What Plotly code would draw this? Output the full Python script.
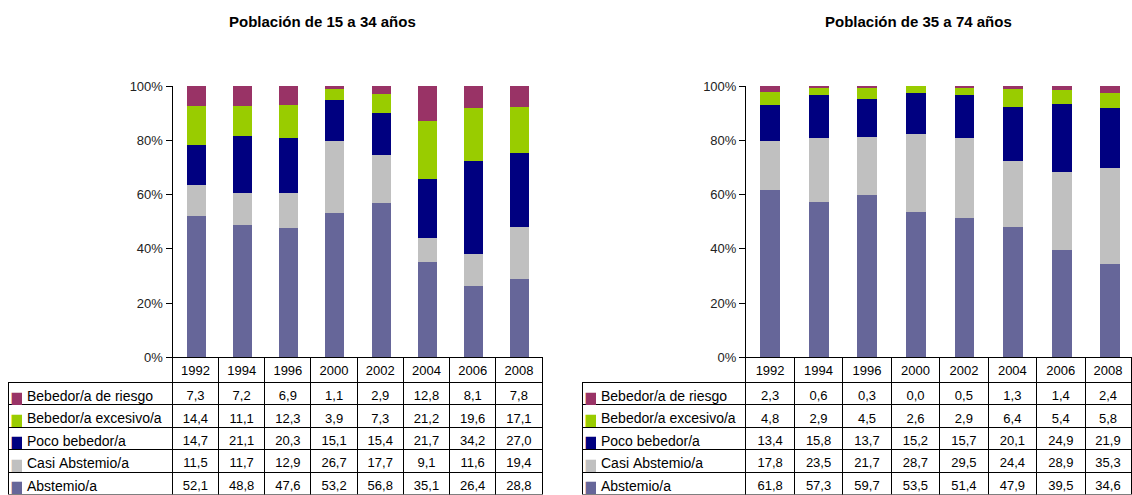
import plotly.graph_objects as go

years = ["1992", "1994", "1996", "2000", "2002", "2004", "2006", "2008"]

# Bottom-to-top stacking order
categories = ["Abstemio/a", "Casi Abstemio/a", "Poco bebedor/a",
              "Bebedor/a excesivo/a", "Bebedor/a de riesgo"]
colors = ["#666699", "#C0C0C0", "#000080", "#99CC00", "#993366"]

# Población de 15 a 34 años
young = {
    "Abstemio/a":           [52.1, 48.8, 47.6, 53.2, 56.8, 35.1, 26.4, 28.8],
    "Casi Abstemio/a":      [11.5, 11.7, 12.9, 26.7, 17.7, 9.1, 11.6, 19.4],
    "Poco bebedor/a":       [14.7, 21.1, 20.3, 15.1, 15.4, 21.7, 34.2, 27.0],
    "Bebedor/a excesivo/a": [14.4, 11.1, 12.3, 3.9, 7.3, 21.2, 19.6, 17.1],
    "Bebedor/a de riesgo":  [7.3, 7.2, 6.9, 1.1, 2.9, 12.8, 8.1, 7.8],
}
# Población de 35 a 74 años
older = {
    "Abstemio/a":           [61.8, 57.3, 59.7, 53.5, 51.4, 47.9, 39.5, 34.6],
    "Casi Abstemio/a":      [17.8, 23.5, 21.7, 28.7, 29.5, 24.4, 28.9, 35.3],
    "Poco bebedor/a":       [13.4, 15.8, 13.7, 15.2, 15.7, 20.1, 24.9, 21.9],
    "Bebedor/a excesivo/a": [4.8, 2.9, 4.5, 2.6, 2.9, 6.4, 5.4, 5.8],
    "Bebedor/a de riesgo":  [2.3, 0.6, 0.3, 0.0, 0.5, 1.3, 1.4, 2.4],
}
titles = ["Población de 15 a 34 años", "Población de 35 a 74 años"]

W, H = 1132, 495
FONT = "Arial, Liberation Sans, sans-serif"
NB = "\u00a0"
CLEAR = "rgba(0,0,0,0)"

fig = go.Figure()

xpos = list(range(len(years)))

def fmt(v):
    return f"{v:.1f}".replace(".", ",")

panels = [
    # (data, axis_left_px, axis_right_px, xrange_end, table_left_px, label_w, col_w, last_w, title_x)
    (young, 172.5, 542.5, 7.5, 8, 164.5, 46.25, 46.25, 322),
    (older, 746, W, 7.45, 582, 164, 48.5, 46.0, 918),
]

y_top_px, y_bot_px = 86, 357.5
ydom = [(H - y_bot_px) / H, (H - y_top_px) / H]
HEADER_H, ROW_H = 25, 22.4

rows = list(reversed(categories))
rcols = list(reversed(colors))

for i, (data, l_px, r_px, xend, t_px, lab_w, col_w, last_w, title_x) in enumerate(panels):
    suffix = "" if i == 0 else "2"
    xa, ya = "x" + suffix, "y" + suffix
    for cat, col in zip(categories, colors):
        fig.add_trace(go.Bar(
            x=xpos, y=data[cat], name=cat, marker=dict(color=col, line=dict(width=0)),
            width=0.41, xaxis=xa, yaxis=ya, showlegend=False, hoverinfo="skip"))
    fig.layout["xaxis" + suffix] = dict(
        domain=[l_px / W, min(r_px / W, 1.0)], range=[-0.5, xend],
        showticklabels=False, ticks="", showgrid=False, zeroline=False,
        showline=False, anchor=ya, fixedrange=True, automargin=False)
    fig.layout["yaxis" + suffix] = dict(
        domain=ydom, range=[0, 100], tickvals=[0, 20, 40, 60, 80, 100],
        ticktext=["0%", "20%", "40%", "60%", "80%", "100%"],
        showgrid=False, zeroline=False, showline=True, linecolor="#000", linewidth=1,
        ticks="outside", ticklen=6, tickcolor="#000", tickwidth=1,
        tickfont=dict(family=FONT, size=13, color="#222"),
        anchor=xa, fixedrange=True, automargin=False)

    # data table grid with the values (label column filled by overlays below)
    columns = [[""] * len(rows)] + [[fmt(data[r][j]) for r in rows] for j in range(len(years))]
    table_right = min(l_px + col_w * 7 + last_w, W)
    widths = [lab_w] + [col_w] * 7 + [last_w]
    tdom_y = [0, (H - y_bot_px) / H]
    fig.add_trace(go.Table(
        domain=dict(x=[t_px / W, table_right / W], y=tdom_y),
        columnwidth=widths,
        header=dict(values=[""] + years,
                    height=HEADER_H,
                    align="center",
                    line=dict(color=[CLEAR] + ["#000"] * 8, width=1),
                    fill=dict(color=[CLEAR] + ["white"] * 8),
                    font=dict(family=FONT, size=13, color="#000")),
        cells=dict(values=columns,
                   height=ROW_H,
                   align=["left"] + ["center"] * 8,
                   line=dict(color="#000", width=1),
                   fill=dict(color="white"),
                   font=dict(family=FONT, size=13, color="#000")),
    ))
    # colour keys overlaid on the label column
    fig.add_trace(go.Table(
        domain=dict(x=[(t_px - 6) / W, (t_px + 14) / W], y=tdom_y),
        header=dict(values=[""], height=HEADER_H,
                    line=dict(color=CLEAR, width=0), fill=dict(color=CLEAR)),
        cells=dict(values=[["■"] * len(rows)],
                   height=ROW_H, align="left",
                   line=dict(color=CLEAR, width=0), fill=dict(color=CLEAR),
                   font=dict(family="DejaVu Sans", size=16, color=[rcols])),
    ))
    # row labels overlaid on the label column
    fig.add_trace(go.Table(
        domain=dict(x=[(t_px + 11) / W, (t_px + lab_w - 1) / W], y=tdom_y),
        header=dict(values=[""], height=HEADER_H,
                    line=dict(color=CLEAR, width=0), fill=dict(color=CLEAR)),
        cells=dict(values=[[r.replace(" ", NB) for r in rows]],
                   height=ROW_H, align="left",
                   line=dict(color=CLEAR, width=0), fill=dict(color=CLEAR),
                   font=dict(family=FONT, size=14, color="#000")),
    ))

    fig.add_annotation(
        text=f"<b>{titles[i]}</b>", xref="paper", yref="paper",
        x=title_x / W, y=(H - 22) / H,
        xanchor="center", yanchor="middle", showarrow=False,
        font=dict(family=FONT, size=15, color="#000"))

fig.update_layout(
    width=W, height=H, barmode="stack", bargap=0,
    margin=dict(l=0, r=0, t=0, b=0, pad=0, autoexpand=False),
    paper_bgcolor="white", plot_bgcolor="white",
    font=dict(family=FONT, size=13, color="#000"),
)

fig.write_html("out.html", config={"displayModeBar": False},
               post_script="document.body.style.margin='0';document.body.style.padding='0';document.body.style.overflow='hidden';")
